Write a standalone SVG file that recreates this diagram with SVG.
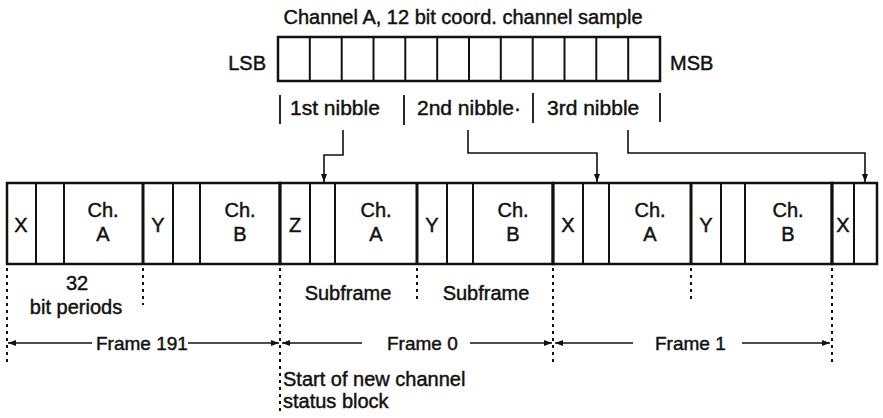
<svg xmlns="http://www.w3.org/2000/svg" width="883" height="418" viewBox="0 0 883 418">
<defs>
<style>
text{font-family:"Liberation Sans",Arial,sans-serif;fill:#111;stroke:#111;stroke-width:0.45}
.t20{font-size:20px}
.t21{font-size:21px}
.t19{font-size:19px}
.c{text-anchor:middle}
.box{fill:#fff;stroke:#111;stroke-width:2.5}
.div{stroke:#111;stroke-width:2}
.thick{stroke:#111;stroke-width:3}
.tick{stroke:#111;stroke-width:1.8}
.conn{fill:none;stroke:#111;stroke-width:1.6}
.dot{stroke:#111;stroke-width:2;stroke-dasharray:3 4;fill:none}
.dim{stroke:#111;stroke-width:1.6;fill:none}
</style>
<marker id="ah" markerWidth="8" markerHeight="6" refX="8" refY="3" orient="auto" markerUnits="userSpaceOnUse">
<path d="M0,0 L8,3 L0,6 z" fill="#111"/>
</marker>
</defs>
<rect width="883" height="418" fill="#fff"/>

<g id="register">
<text class="t20 c" x="463" y="24">Channel A, 12 bit coord. channel sample</text>
<text class="t20" x="266" y="70" text-anchor="end">LSB</text>
<text class="t20" x="670" y="70">MSB</text>
<rect class="box" x="278" y="37" width="382" height="44"/>
<g class="div">
<line x1="309.8" y1="37" x2="309.8" y2="81"/>
<line x1="341.7" y1="37" x2="341.7" y2="81"/>
<line x1="373.5" y1="37" x2="373.5" y2="81"/>
<line x1="405.3" y1="37" x2="405.3" y2="81"/>
<line x1="437.2" y1="37" x2="437.2" y2="81"/>
<line x1="469" y1="37" x2="469" y2="81"/>
<line x1="500.8" y1="37" x2="500.8" y2="81"/>
<line x1="532.7" y1="37" x2="532.7" y2="81"/>
<line x1="564.5" y1="37" x2="564.5" y2="81"/>
<line x1="596.3" y1="37" x2="596.3" y2="81"/>
<line x1="628.2" y1="37" x2="628.2" y2="81"/>
</g>
</g>

<g id="nibbles">
<g class="tick">
<line x1="280" y1="95" x2="280" y2="124"/>
<line x1="404" y1="95" x2="404" y2="125"/>
<line x1="533" y1="93" x2="533" y2="123"/>
<line x1="660" y1="93" x2="660" y2="122"/>
</g>
<text class="t21" x="290" y="115">1st nibble</text>
<text class="t21" x="417" y="115">2nd nibble·</text>
<text class="t21" x="547" y="115">3rd nibble</text>
</g>

<g id="frame191">
<rect class="box" x="7" y="183" width="273" height="81"/>
<g class="div">
<line x1="36" y1="183" x2="36" y2="264"/>
<line x1="64" y1="183" x2="64" y2="264"/>
<line x1="173" y1="183" x2="173" y2="264"/>
<line x1="200" y1="183" x2="200" y2="264"/>
</g>
<line class="thick" x1="143" y1="183" x2="143" y2="264"/>
<text class="t20 c" x="21" y="232">X</text>
<text class="t20 c" x="103" y="217">Ch.</text>
<text class="t20 c" x="103" y="241">A</text>
<text class="t20 c" x="158" y="232">Y</text>
<text class="t20 c" x="240" y="217">Ch.</text>
<text class="t20 c" x="240" y="241">B</text>
</g>

<g id="frame0">
<rect class="box" x="280" y="183" width="273" height="81"/>
<g class="div">
<line x1="310" y1="183" x2="310" y2="264"/>
<line x1="335" y1="183" x2="335" y2="264"/>
<line x1="447" y1="183" x2="447" y2="264"/>
<line x1="473" y1="183" x2="473" y2="264"/>
</g>
<line class="thick" x1="417" y1="183" x2="417" y2="264"/>
<line class="thick" x1="280" y1="183" x2="280" y2="264"/>
<text class="t20 c" x="295" y="232">Z</text>
<text class="t20 c" x="376" y="217">Ch.</text>
<text class="t20 c" x="376" y="241">A</text>
<text class="t20 c" x="432" y="232">Y</text>
<text class="t20 c" x="513" y="217">Ch.</text>
<text class="t20 c" x="513" y="241">B</text>
</g>

<g id="frame1">
<rect class="box" x="553" y="183" width="279" height="81"/>
<g class="div">
<line x1="583" y1="183" x2="583" y2="264"/>
<line x1="609" y1="183" x2="609" y2="264"/>
<line x1="721" y1="183" x2="721" y2="264"/>
<line x1="745" y1="183" x2="745" y2="264"/>
</g>
<line class="thick" x1="691" y1="183" x2="691" y2="264"/>
<line class="thick" x1="553" y1="183" x2="553" y2="264"/>
<text class="t20 c" x="568" y="232">X</text>
<text class="t20 c" x="650" y="217">Ch.</text>
<text class="t20 c" x="650" y="241">A</text>
<text class="t20 c" x="706" y="232">Y</text>
<text class="t20 c" x="788" y="217">Ch.</text>
<text class="t20 c" x="788" y="241">B</text>
</g>

<g id="frame2">
<rect class="box" x="832" y="183" width="45" height="81"/>
<line class="div" x1="854" y1="183" x2="854" y2="264"/>
<line class="thick" x1="832" y1="183" x2="832" y2="264"/>
<text class="t20 c" x="843" y="232">X</text>
</g>

<g id="connectors">
<path class="conn" d="M343,130 V155 H324 V182" marker-end="url(#ah)"/>
<path class="conn" d="M468,130 V153 H597 V182" marker-end="url(#ah)"/>
<path class="conn" d="M628,130 V153 H865 V182" marker-end="url(#ah)"/>
</g>

<g id="boundaries">
<line class="dot" x1="7" y1="268" x2="7" y2="363"/>
<line class="dot" x1="143" y1="268" x2="143" y2="305"/>
<line class="dot" x1="280" y1="268" x2="280" y2="412"/>
<line class="dot" x1="417" y1="268" x2="417" y2="303"/>
<line class="dot" x1="553" y1="268" x2="553" y2="362"/>
<line class="dot" x1="691" y1="268" x2="691" y2="300"/>
<line class="dot" x1="832" y1="268" x2="832" y2="362"/>
</g>

<g id="labels">
<text class="t20 c" x="77" y="290">32</text>
<text class="t20 c" x="76" y="314">bit periods</text>
<text class="t20 c" x="348" y="300">Subframe</text>
<text class="t20 c" x="486" y="300">Subframe</text>
<text class="t20" x="283" y="386">Start of new channel</text>
<text class="t20" x="283" y="408">status block</text>
</g>

<g id="dimensions">
<line class="dim" x1="92" y1="343" x2="8" y2="343" marker-end="url(#ah)"/>
<line class="dim" x1="188" y1="343" x2="279" y2="343" marker-end="url(#ah)"/>
<text class="t19" x="96" y="350">Frame 191</text>
<line class="dim" x1="362" y1="343" x2="282" y2="343" marker-end="url(#ah)"/>
<line class="dim" x1="470" y1="343" x2="552" y2="343" marker-end="url(#ah)"/>
<text class="t19" x="387" y="350">Frame 0</text>
<line class="dim" x1="633" y1="343" x2="555" y2="343" marker-end="url(#ah)"/>
<line class="dim" x1="742" y1="343" x2="830" y2="343" marker-end="url(#ah)"/>
<text class="t19" x="655" y="350">Frame 1</text>
</g>
</svg>
